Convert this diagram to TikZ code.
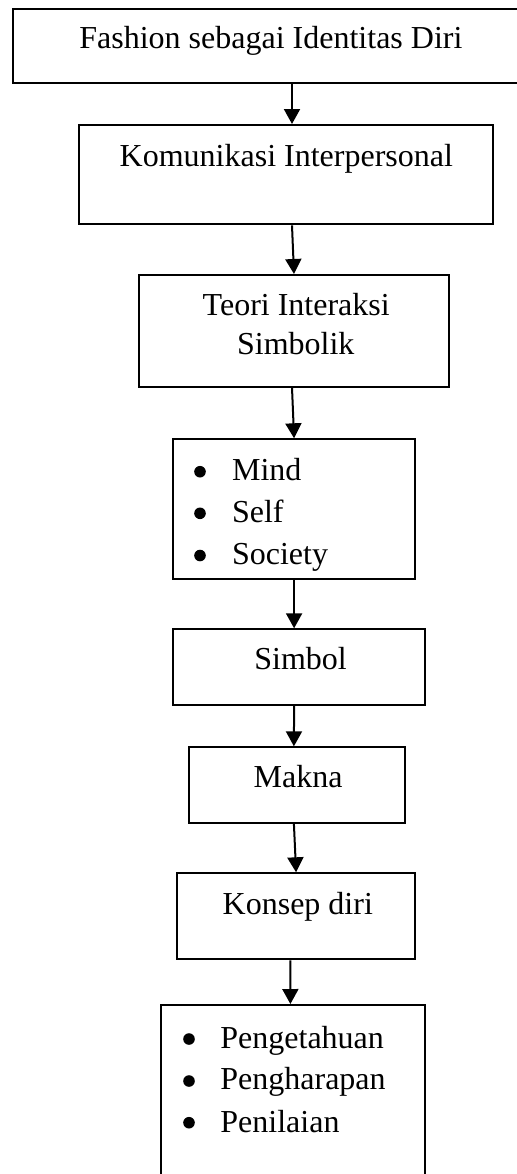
\documentclass[tikz,border=0pt]{standalone}
\usepackage{fontspec}
\setmainfont{Liberation Serif}
\usetikzlibrary{arrows.meta}
\begin{document}
\begin{tikzpicture}[x=0.5pt,y=-0.5pt,
  box/.style={draw, line width=1pt, inner sep=0pt, rectangle},
  txt/.style={anchor=base west, inner sep=0pt, font=\fontsize{16}{19}\selectfont},
  arr/.style={line width=1pt, -{Triangle[width=8pt,length=7.5pt]}},
  bul/.style={circle, fill, inner sep=0pt, minimum size=5.8pt}]
\useasboundingbox (0,0) rectangle (517,1174);
\clip (0,0) rectangle (517,1174);
% boxes
\node[box, minimum width=263.5pt, minimum height=37pt] (b1) at (276.5,46) {};
\node[box, minimum width=207.2pt, minimum height=49.7pt] (b2) at (286.2,174.7) {};
\node[box, minimum width=155.2pt, minimum height=55.8pt] (b3) at (294.2,330.8) {};
\node[box, minimum width=121.3pt, minimum height=70pt] (b4) at (294,509.3) {};
\node[box, minimum width=126.3pt, minimum height=37.9pt] (b5) at (299,667.2) {};
\node[box, minimum width=108pt, minimum height=37.7pt] (b6) at (297.3,785) {};
\node[box, minimum width=119.3pt, minimum height=43pt] (b7) at (296,916.3) {};
\node[box, minimum width=132.2pt, minimum height=97.5pt] (b8) at (293.2,1102.5) {};
% texts
\node[txt] (t1) at (79,48) {Fashion sebagai Identitas Diri};
\node[txt] (t2) at (119.3,166.7) {Komunikasi Interpersonal};
\node[txt] (t3a) at (202.3,315) {Teori Interaksi};
\node[txt] (t3b) at (236.7,354) {Simbolik};
\node[txt] (t4a) at (231.7,480) {Mind};
\node[txt] (t4b) at (231.7,522) {Self};
\node[txt] (t4c) at (231.7,564) {Society};
\node[txt] (t5) at (254,669) {Simbol};
\node[txt] (t6) at (253.3,787) {Makna};
\node[txt] (t7) at (222.3,914) {Konsep diri};
\node[txt] (t8a) at (220,1048) {Pengetahuan};
\node[txt] (t8b) at (220,1089) {Pengharapan};
\node[txt] (t8c) at (220,1132) {Penilaian};
% bullets
\node[bul] (u1) at (200,471.7) {};
\node[bul] (u2) at (200,513.3) {};
\node[bul] (u3) at (200,555.5) {};
\node[bul] (v1) at (189,1039) {};
\node[bul] (v2) at (189,1081) {};
\node[bul] (v3) at (189,1122.7) {};
% arrows
\draw[arr] ([xshift=140pt]b1.south west) -- ([xshift=107pt]b2.north west);
\draw[arr] ([xshift=107pt]b2.south west) -- ([xshift=78pt]b3.north west);
\draw[arr] ([xshift=77pt]b3.south west) -- ([xshift=61.2pt]b4.north west);
\draw[arr] ([xshift=61.2pt]b4.south west) -- ([xshift=61.2pt]b5.north west);
\draw[arr] ([xshift=61.2pt]b5.south west) -- ([xshift=52.8pt]b6.north west);
\draw[arr] ([xshift=52.8pt]b6.south west) -- ([xshift=60.2pt]b7.north west);
\draw[arr] ([xshift=57.3pt]b7.south west) -- ([xshift=65.2pt]b8.north west);
\end{tikzpicture}
\end{document}
